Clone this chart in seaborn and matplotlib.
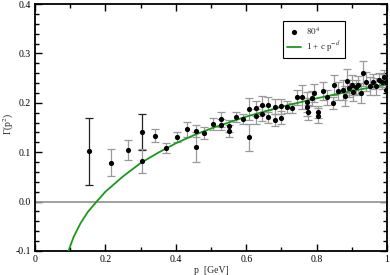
import numpy as np
import pandas as pd
import seaborn as sns
import matplotlib.pyplot as plt
from matplotlib.ticker import MultipleLocator, FixedFormatter, FixedLocator

# data
p_vals = [0.152, 0.216, 0.264, 0.305, 0.305, 0.341, 0.373, 0.403, 0.431, 0.456,
          0.457, 0.481, 0.505, 0.528, 0.528, 0.550, 0.550, 0.571, 0.590, 0.609,
          0.609, 0.627, 0.627, 0.644, 0.644, 0.663, 0.663, 0.682, 0.682, 0.699,
          0.699, 0.715, 0.729, 0.745, 0.759, 0.772, 0.773, 0.776, 0.788, 0.793,
          0.803, 0.805, 0.817, 0.829, 0.846, 0.849, 0.860, 0.874, 0.882, 0.885,
          0.892, 0.900, 0.904, 0.912, 0.918, 0.925, 0.933, 0.939, 0.952, 0.961,
          0.970, 0.978, 0.985, 0.992, 0.997, 0.996]
gamma_vals = [0.102, 0.079, 0.105, 0.141, 0.082, 0.133, 0.108, 0.131, 0.146, 0.143,
              0.110, 0.139, 0.157, 0.167, 0.156, 0.153, 0.143, 0.171, 0.168, 0.187,
              0.130, 0.189, 0.173, 0.195, 0.178, 0.196, 0.172, 0.192, 0.166, 0.193,
              0.170, 0.191, 0.189, 0.211, 0.212, 0.201, 0.191, 0.181, 0.209, 0.220,
              0.174, 0.182, 0.224, 0.211, 0.200, 0.236, 0.224, 0.226, 0.214, 0.244,
              0.229, 0.236, 0.222, 0.231, 0.236, 0.220, 0.260, 0.243, 0.234, 0.243,
              0.233, 0.246, 0.243, 0.252, 0.243, 0.226]
gamma_err = [0.068, 0.028, 0.020, 0.037, 0.025, 0.013, 0.010, 0.010, 0.015, 0.012,
             0.030, 0.012, 0.012, 0.015, 0.012, 0.012, 0.012, 0.010, 0.010, 0.022,
             0.028, 0.015, 0.015, 0.018, 0.015, 0.015, 0.013, 0.015, 0.012, 0.015,
             0.013, 0.012, 0.010, 0.015, 0.025, 0.020, 0.018, 0.015, 0.015, 0.018,
             0.015, 0.012, 0.018, 0.015, 0.012, 0.020, 0.018, 0.020, 0.020, 0.025,
             0.018, 0.020, 0.018, 0.015, 0.018, 0.020, 0.025, 0.020, 0.018, 0.015,
             0.018, 0.015, 0.015, 0.015, 0.012, 0.015]
dark_err = [0, 3]  # indices with black error bars

# fit curve
fit_p = [0.095, 0.11, 0.13, 0.15, 0.175, 0.2, 0.25, 0.3, 0.35, 0.4, 0.45,
         0.5, 0.6, 0.7, 0.8, 0.9, 1.0]
fit_gamma = [-0.100, -0.071, -0.043, -0.021, 0.000, 0.020, 0.051, 0.078, 0.099,
             0.118, 0.134, 0.148, 0.172, 0.192, 0.209, 0.224, 0.237]

sns.set_theme(style="ticks")
plt.rcParams['font.family'] = ['Liberation Serif', 'DejaVu Serif']
plt.rcParams['mathtext.fontset'] = 'stix'

df = pd.DataFrame({'p': p_vals, 'gamma': gamma_vals, 'err': gamma_err})
fit_df = pd.DataFrame({'p': fit_p, 'gamma': fit_gamma})

fig = plt.figure(figsize=(3.9, 2.75), dpi=100)
ax = fig.add_axes([35 / 390, 1 - 251 / 275, 352 / 390, 247 / 275])

ax.axhline(0.0, color='#999999', lw=1.3, zorder=1)

err_colors = ['#222222' if i in dark_err else '#999999' for i in range(len(df))]
for i, row in df.iterrows():
    ax.errorbar(row['p'], row['gamma'], yerr=row['err'], fmt='none',
                ecolor=err_colors[i], elinewidth=0.9, capsize=3, capthick=0.9, zorder=2)

sns.lineplot(data=fit_df, x='p', y='gamma', color='#1a9a1a', lw=1.3,
             ax=ax, label='1 + c p$^{-d}$', zorder=3)
sns.scatterplot(data=df, x='p', y='gamma', color='black', s=14, edgecolor='black',
                linewidth=0, ax=ax, label='$80^4$', zorder=4)

ax.set_xlim(0, 1)
ax.set_ylim(-0.1, 0.4)
ax.xaxis.set_major_locator(FixedLocator([0, 0.2, 0.4, 0.6, 0.8, 1.0]))
ax.xaxis.set_major_formatter(FixedFormatter(['0', '0.2', '0.4', '0.6', '0.8', '1']))
ax.xaxis.set_minor_locator(MultipleLocator(0.1))
ax.yaxis.set_major_locator(FixedLocator([-0.1, 0.0, 0.1, 0.2, 0.3, 0.4]))
ax.yaxis.set_major_formatter(FixedFormatter(['-0.1', '0.0', '0.1', '0.2', '0.3', '0.4']))
ax.yaxis.set_minor_locator(MultipleLocator(0.02))
ax.tick_params(which='both', direction='in', top=True, right=True, labelsize=7,
               width=1.0, colors='black')
ax.tick_params(which='major', length=5, pad=3)
ax.tick_params(which='minor', length=3)
for s in ax.spines.values():
    s.set_linewidth(1.3)
    s.set_color('black')

ax.set_xlabel('p  [GeV]', fontsize=7, labelpad=1)
ax.set_ylabel('')
fig.text(8.5 / 390, 1 - 124 / 275, 'Γ(p$^2$)', fontsize=7, rotation=90,
         ha='center', va='center')

handles, labels = ax.get_legend_handles_labels()
order = [labels.index('$80^4$'), labels.index('1 + c p$^{-d}$')]
leg = ax.legend([handles[i] for i in order], [labels[i] for i in order],
                loc='upper left', bbox_to_anchor=(0.705, 0.93), fontsize=6.5,
                frameon=True, fancybox=False, edgecolor='black', framealpha=1,
                handlelength=1.5, handletextpad=0.6, borderpad=0.45,
                labelspacing=0.35, borderaxespad=0)
leg.get_frame().set_linewidth(0.8)

fig.savefig('out.png', dpi=100)
